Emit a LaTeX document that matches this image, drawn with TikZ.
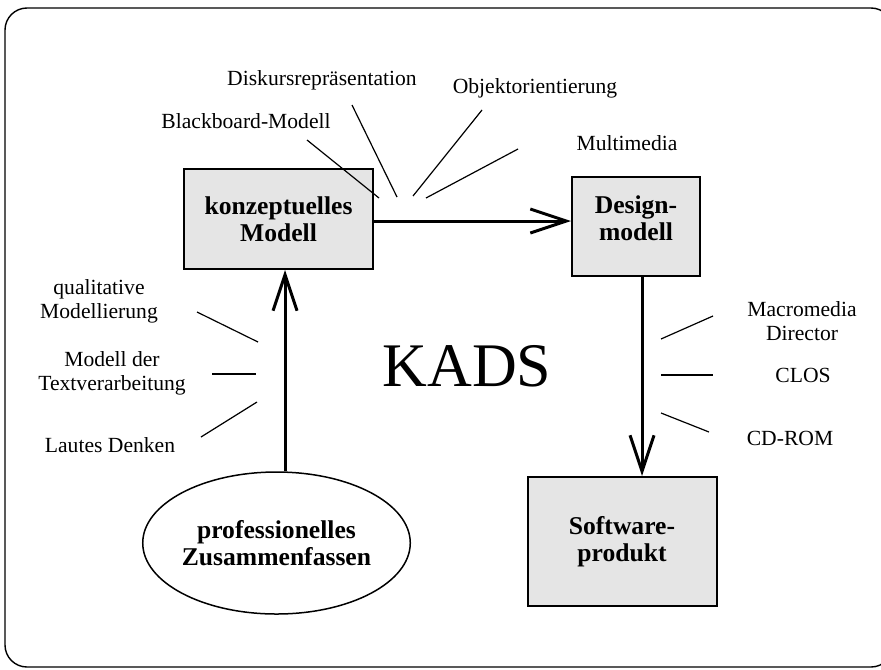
\documentclass[tikz,border=0pt]{standalone}
\usepackage{fontspec}
\setmainfont{Liberation Serif}
\usetikzlibrary{arrows.meta,positioning,calc,shapes.geometric}
\tikzstyle{term}=[font=\fontsize{10.8}{11.8}\selectfont, inner sep=0pt, align=center]
\tikzstyle{block}=[draw, line width=1pt, fill=black!10, inner sep=0pt, align=center, font=\fontsize{12.8}{13.5}\selectfont\bfseries]
\tikzstyle{spoke}=[line width=0.6pt]
\tikzstyle{flow}=[line width=1.5pt, -{Straight Barb[length=18pt,width=12pt,line width=1.5pt]}]

\begin{document}
\begin{tikzpicture}[x=0.5pt,y=-0.5pt]
  \useasboundingbox (0,0) rectangle (881,669);
  \draw[line width=0.7pt, rounded corners=11pt] (5,8) rectangle (893,667);

  % Main blocks
  \node[block, minimum width=94.5pt, minimum height=50pt] (konz) at (278.5,219) {konzeptuelles\\Modell};
  \node[block, minimum width=64pt, minimum height=49.5pt, text depth=8pt] (design) at (636,226.5) {Design-\\modell};
  \node[block, minimum width=94.5pt, minimum height=64.5pt] (soft) at (622,541.5) {Software-\\produkt};
  \node[ellipse, draw, line width=0.75pt, fill=white, minimum width=124.5pt, minimum height=71pt, inner sep=0pt, align=center, font=\fontsize{12.8}{13.5}\selectfont\bfseries] (prof) at (276.5,543) {professionelles\\Zusammenfassen};

  \node[font=\fontsize{31}{31}\selectfont, anchor=base] (kads) at (467,386) {KADS};

  % Flow arrows
  \coordinate (up) at (285,0);
  \coordinate (mid) at (0,221);
  \coordinate (down) at (642,0);
  \draw[flow] (prof.north -| up) -- (konz.south -| up);
  \draw[flow] (konz.east |- mid) -- (design.west |- mid);
  \draw[flow] (design.south -| down) -- (soft.north -| down);

  % Top labels
  \node[term, anchor=base] (disk) at (322,85) {Diskursrepräsentation};
  \node[term, anchor=base] (objekt) at (535,93) {Objektorientierung};
  \node[term, anchor=base] (black) at (246,128) {Blackboard-Modell};
  \node[term, anchor=base] (multi) at (627,150) {Multimedia};

  \coordinate (blackA) at (307,140);  \coordinate (blackB) at (379,198);
  \coordinate (diskA) at (352,105);   \coordinate (diskB) at (397,197);
  \coordinate (objektA) at (482,110); \coordinate (objektB) at (413,196);
  \coordinate (multiA) at (518,149);  \coordinate (multiB) at (426,198);
  \draw[spoke] (blackA) -- (blackB);
  \draw[spoke] (diskA) -- (diskB);
  \draw[spoke] (objektA) -- (objektB);
  \draw[spoke] (multiA) -- (multiB);

  % Left labels (base is the last line)
  \node[term, anchor=base] (qual) at (99,318) {qualitative\\Modellierung};
  \node[term, anchor=base] (textv) at (112,390) {Modell der\\Textverarbeitung};
  \node[term, anchor=base] (laut) at (110,452) {Lautes Denken};

  \coordinate (qualA) at (197,312);  \coordinate (qualB) at (258,342);
  \coordinate (textvA) at (212,374); \coordinate (textvB) at (256,374);
  \coordinate (lautA) at (201,437);  \coordinate (lautB) at (257,402);
  \draw[spoke] (qualA) -- (qualB);
  \draw[spoke] (textvA) -- (textvB);
  \draw[spoke] (lautA) -- (lautB);

  % Right labels
  \node[term, anchor=base] (macro) at (802,340) {Macromedia\\Director};
  \node[term, anchor=base] (clos) at (803,382) {CLOS};
  \node[term, anchor=base] (cdrom) at (790,445) {CD-ROM};

  \coordinate (macroA) at (661,339); \coordinate (macroB) at (713,316);
  \coordinate (closA) at (661,375);  \coordinate (closB) at (713,375);
  \coordinate (cdromA) at (661,413); \coordinate (cdromB) at (709,432);
  \draw[spoke] (macroA) -- (macroB);
  \draw[spoke] (closA) -- (closB);
  \draw[spoke] (cdromA) -- (cdromB);
\end{tikzpicture}
\end{document}
